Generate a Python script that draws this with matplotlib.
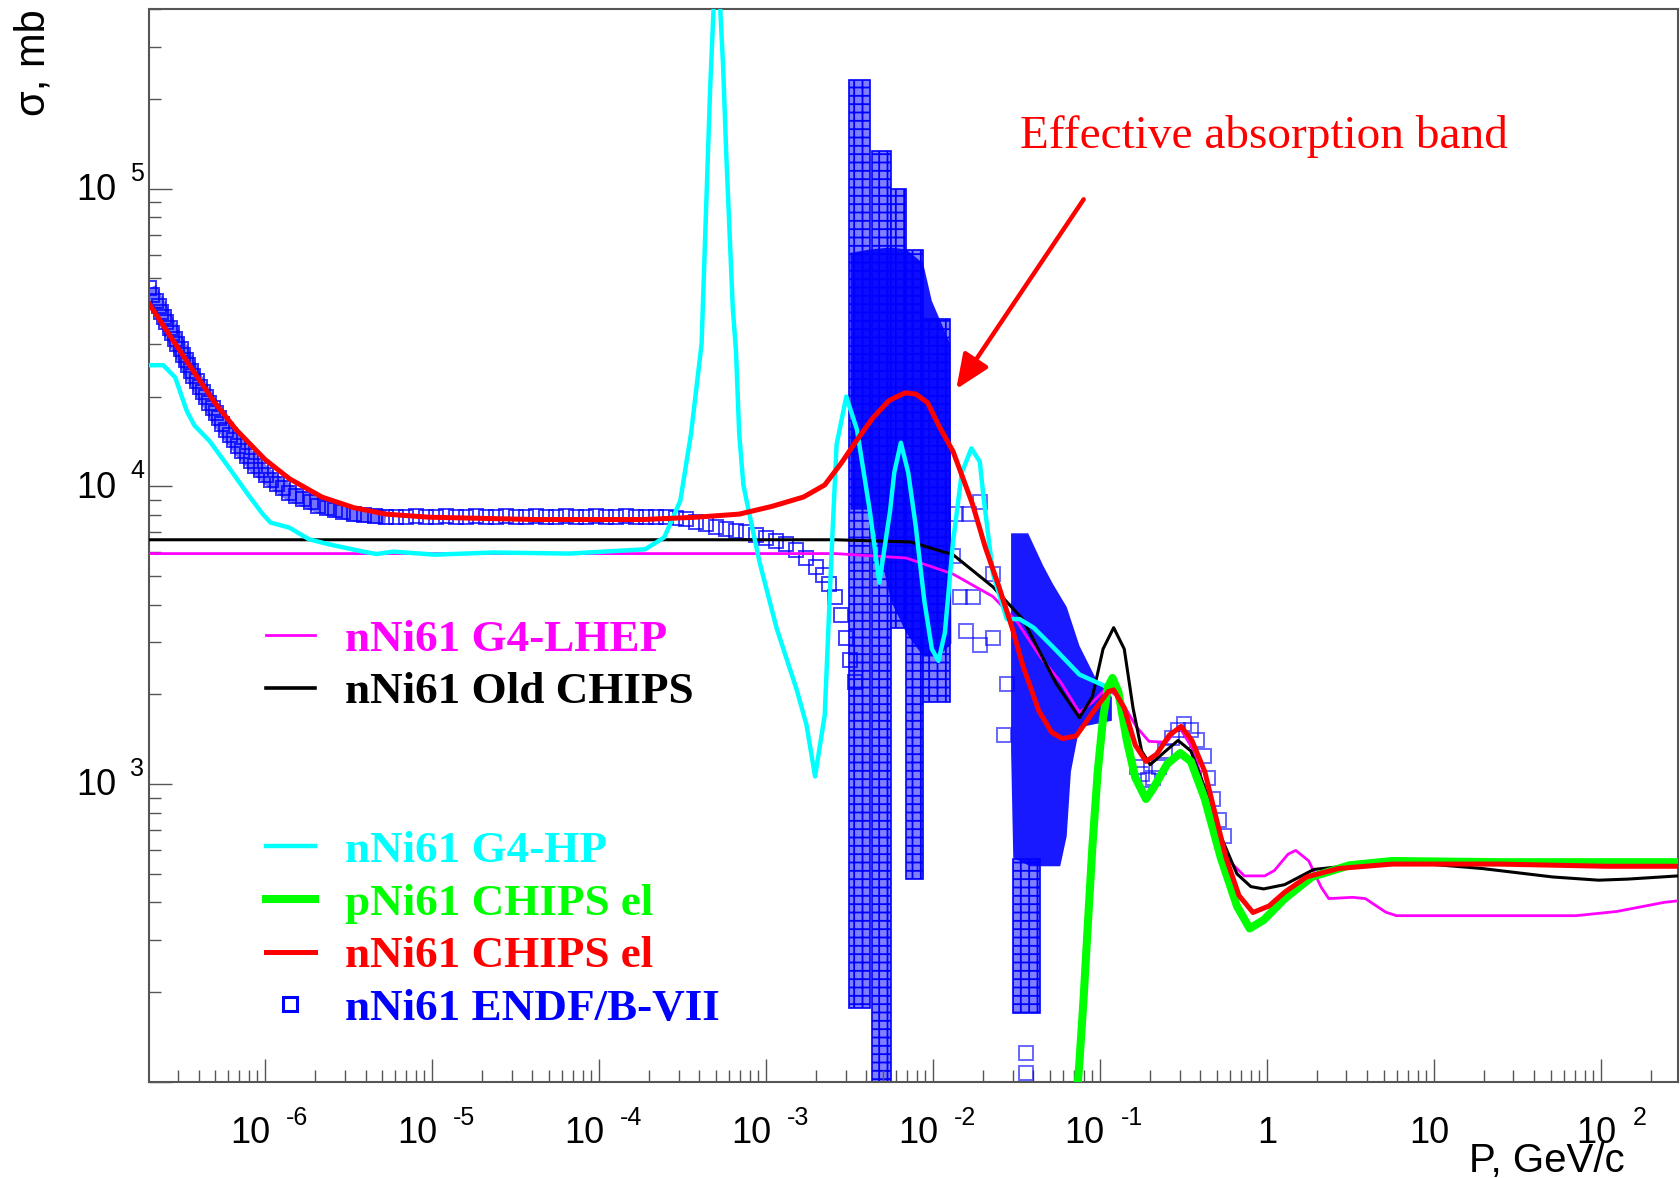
import matplotlib
matplotlib.use("Agg")
import matplotlib.pyplot as plt
from matplotlib.lines import Line2D
from matplotlib.transforms import offset_copy
from matplotlib.ticker import LogLocator, NullFormatter

plt.rcParams['hatch.color'] = '#1010ff'
plt.rcParams['hatch.linewidth'] = 1.3

# ---------------- data (p in GeV/c, sigma in mb) ----------------
lhep_p = [2.03e-7, 2.61e-3, 6.92e-3, 1.32e-2, 2.29e-2, 3.21e-2, 4.38e-2, 5.79e-2, 7.55e-2, 9.02e-2,
          0.109, 0.130, 0.165, 0.197, 0.250, 0.298, 0.366, 0.457, 0.570, 0.733, 0.971, 1.11, 1.34,
          1.49, 1.78, 2.12, 2.35, 3.26, 3.89, 5.15, 5.97, 71.3, 125, 239, 290]
lhep_s = [5.94e3, 5.94e3, 5.74e3, 5.07e3, 4.26e3, 3.49e3, 2.68e3, 2.21e3, 1.74e3, 1.88e3,
          2.09e3, 1.96e3, 1.56e3, 1.39e3, 1.38e3, 1.56e3, 1.29e3, 820, 565, 491, 491, 512, 581,
          598, 552, 449, 412, 416, 412, 371, 361, 361, 373, 400, 405]

old_p = [2.03e-7, 2.61e-3, 7.33e-3, 1.32e-2, 2.29e-2, 3.45e-2, 5.46e-2, 7.55e-2, 9.02e-2, 0.1045,
         0.121, 0.140, 0.158, 0.178, 0.200, 0.236, 0.294, 0.351, 0.425, 0.530, 0.662, 0.802, 0.957,
         1.28, 1.91, 5.62, 19.4, 51.5, 97, 145, 290]
old_s = [6.61e3, 6.61e3, 6.50e3, 5.89e3, 4.59e3, 3.58e3, 2.18e3, 1.67e3, 1.96e3, 2.84e3,
         3.35e3, 2.84e3, 1.80e3, 1.29e3, 1.16e3, 1.26e3, 1.40e3, 1.29e3, 968, 667, 499, 452, 444,
         459, 516, 551, 520, 487, 475, 479, 491]

hp_p = [2.03e-7, 2.46e-7, 2.90e-7, 3.40e-7, 3.78e-7, 4.65e-7, 6.05e-7, 7.89e-7, 9.7e-7, 1.08e-6,
        1.40e-6, 1.83e-6, 2.39e-6, 3.66e-6, 4.65e-6, 5.88e-6, 1.04e-5, 2.32e-5, 6.62e-5, 1.89e-4,
        2.46e-4, 3.07e-4, 3.56e-4, 4.12e-4, 4.37e-4, 4.64e-4, 5.07e-4, 5.54e-4, 5.79e-4, 6.33e-4,
        6.62e-4, 6.92e-4, 7.33e-4, 7.67e-4, 9.16e-4, 1.16e-3, 1.53e-3, 1.75e-3, 1.97e-3, 2.25e-3,
        2.46e-3, 2.65e-3, 3.03e-3, 3.51e-3, 4.19e-3, 4.78e-3, 5.54e-3, 5.87e-3, 6.43e-3, 7.12e-3,
        7.89e-3, 8.89e-3, 9.86e-3, 1.08e-2, 1.18e-2, 1.32e-2, 1.49e-2, 1.70e-2, 1.91e-2, 2.0e-2,
        2.29e-2, 2.77e-2, 3.30e-2, 4.01e-2, 5.38e-2, 7.55e-2, 0.112]
hp_s = [2.55e4, 2.55e4, 2.32e4, 1.79e4, 1.60e4, 1.42e4, 1.16e4, 9.40e3, 8.06e3, 7.55e3,
        7.26e3, 6.64e3, 6.39e3, 6.07e3, 5.92e3, 6.03e3, 5.89e3, 5.99e3, 5.94e3, 6.14e3,
        6.73e3, 8.93e3, 1.50e4, 3.01e4, 8.13e4, 2.20e5, 7.0e5, 2.59e5, 1.30e5, 3.99e4,
        2.84e4, 1.50e4, 1.01e4, 8.91e3, 5.56e3, 3.33e3, 2.07e3, 1.58e3, 1.06e3, 1.70e3,
        5.56e3, 1.38e4, 2.00e4, 1.55e4, 8.26e3, 4.74e3, 8.26e3, 1.11e4, 1.40e4, 1.11e4,
        7.36e3, 4.12e3, 2.84e3, 2.59e3, 3.22e3, 6.50e3, 1.11e4, 1.34e4, 1.21e4, 9.44e3,
        5.07e3, 3.58e3, 3.58e3, 3.35e3, 2.84e3, 2.33e3, 2.11e3]

pel_p = [7.22e-2, 7.55e-2, 8.0e-2, 8.49e-2, 9.02e-2, 9.71e-2, 0.1045, 0.112, 0.119, 0.129, 0.145,
         0.163, 0.189, 0.209, 0.254, 0.303, 0.351, 0.425, 0.530, 0.662, 0.789, 0.957, 1.28, 1.86,
         3.12, 5.62, 24.6, 108, 290]
pel_s = [84, 117, 192, 344, 614, 1.10e3, 1.66e3, 2.12e3, 2.27e3, 2.04e3, 1.40e3,
         1.05e3, 890, 968, 1.17e3, 1.27e3, 1.19e3, 891, 565, 389, 327, 349, 412, 487,
         533, 551, 546, 546, 546]

nel_p = [2.03e-7, 2.77e-7, 3.72e-7, 5.0e-7, 6.71e-7, 1.0e-6, 1.40e-6, 2.19e-6, 3.41e-6, 5.30e-6,
         9.6e-6, 4.2e-5, 1.83e-4, 3.83e-4, 6.92e-4, 1.08e-3, 1.68e-3, 2.25e-3, 2.81e-3, 3.51e-3,
         4.38e-3, 5.46e-3, 6.81e-3, 7.89e-3, 9.29e-3, 1.09e-2, 1.32e-2, 1.73e-2, 2.06e-2, 2.49e-2,
         2.98e-2, 3.45e-2, 4.31e-2, 5.15e-2, 5.97e-2, 7.22e-2, 9.02e-2, 0.112, 0.121, 0.140,
         0.163, 0.189, 0.219, 0.261, 0.307, 0.356, 0.425, 0.492, 0.570, 0.681, 0.826, 1.03, 1.28,
         1.73, 2.69, 5.62, 24.6, 108, 290]
nel_s = [4.09e4, 3.13e4, 2.44e4, 1.91e4, 1.55e4, 1.23e4, 1.06e4, 9.20e3, 8.47e3, 8.06e3,
         7.87e3, 7.73e3, 7.73e3, 7.87e3, 8.06e3, 8.55e3, 9.20e3, 1.01e4, 1.19e4, 1.43e4,
         1.70e4, 1.94e4, 2.06e4, 2.04e4, 1.91e4, 1.59e4, 1.31e4, 8.69e3, 6.24e3, 4.59e3,
         3.35e3, 2.51e3, 1.76e3, 1.49e3, 1.42e3, 1.45e3, 1.73e3, 2.04e3, 2.07e3, 1.80e3,
         1.35e3, 1.19e3, 1.26e3, 1.46e3, 1.56e3, 1.40e3, 1.10e3, 787, 565, 422, 370, 389, 433,
         487, 520, 538, 538, 529, 529]

# ENDF/B-VII evaluated points: steep thermal part
endf_th_p = [2.03e-7, 2.12e-7, 2.22e-7, 2.32e-7, 2.39e-7, 2.49e-7, 2.57e-7, 2.69e-7, 2.77e-7, 2.90e-7,
             2.98e-7, 3.12e-7, 3.21e-7, 3.36e-7, 3.45e-7, 3.61e-7, 3.72e-7, 3.89e-7, 4.06e-7, 4.25e-7,
             4.44e-7, 4.65e-7, 4.85e-7, 5.07e-7, 5.30e-7, 5.54e-7, 5.88e-7, 6.14e-7, 6.52e-7, 6.92e-7,
             7.33e-7, 7.8e-7, 8.26e-7, 8.75e-7, 9.42e-7, 1.01e-6, 1.09e-6, 1.18e-6, 1.29e-6, 1.40e-6,
             1.53e-6, 1.70e-6, 1.89e-6, 2.09e-6, 2.36e-6, 2.61e-6, 2.94e-6, 3.41e-6, 3.94e-6, 4.57e-6,
             5.30e-6]
endf_th_s = [4.62e4, 4.40e4, 4.19e4, 4.02e4, 3.85e4, 3.70e4, 3.55e4, 3.40e4, 3.27e4, 3.13e4,
             3.01e4, 2.88e4, 2.77e4, 2.66e4, 2.55e4, 2.44e4, 2.35e4, 2.25e4, 2.16e4, 2.07e4,
             1.99e4, 1.91e4, 1.83e4, 1.76e4, 1.69e4, 1.62e4, 1.55e4, 1.49e4, 1.43e4, 1.37e4,
             1.31e4, 1.26e4, 1.22e4, 1.17e4, 1.13e4, 1.09e4, 1.05e4, 1.02e4, 9.84e3, 9.51e3,
             9.29e3, 9.06e3, 8.83e3, 8.61e3, 8.47e3, 8.34e3, 8.20e3, 8.06e3, 8.00e3, 7.93e3,
             7.87e3]
# ENDF/B-VII: flat part and onset of the resonance region
endf_p = [6.1e-6, 7.0e-6, 8.0e-6, 9.2e-6, 1.06e-5, 1.21e-5, 1.39e-5, 1.6e-5, 1.84e-5, 2.1e-5,
          2.42e-5, 2.78e-5, 3.2e-5, 3.66e-5, 4.2e-5, 4.83e-5, 5.55e-5, 6.37e-5, 7.3e-5, 8.4e-5,
          9.6e-5, 1.1e-4, 1.27e-4, 1.46e-4, 1.67e-4, 1.92e-4, 2.2e-4, 2.53e-4, 2.9e-4, 3.33e-4,
          3.82e-4, 4.39e-4, 5.04e-4, 5.78e-4, 6.64e-4, 7.62e-4, 8.75e-4, 1.0e-3, 1.15e-3, 1.32e-3,
          1.52e-3, 1.74e-3, 2.0e-3, 2.2e-3, 2.4e-3, 2.6e-3, 2.8e-3, 3.0e-3, 3.2e-3, 3.4e-3]
endf_s = [7.9e3, 7.9e3, 7.95e3, 7.9e3, 7.9e3, 7.95e3, 7.9e3, 7.9e3, 7.95e3, 7.9e3,
          7.9e3, 7.95e3, 7.9e3, 7.9e3, 7.95e3, 7.9e3, 7.9e3, 7.95e3, 7.9e3, 7.9e3,
          7.95e3, 7.9e3, 7.9e3, 7.95e3, 7.9e3, 7.9e3, 7.9e3, 7.9e3, 7.85e3, 7.75e3,
          7.6e3, 7.45e3, 7.3e3, 7.2e3, 7.1e3, 7.0e3, 6.85e3, 6.7e3, 6.55e3, 6.4e3,
          6.1e3, 5.75e3, 5.35e3, 5.05e3, 4.7e3, 4.25e3, 3.7e3, 3.1e3, 2.6e3, 2.2e3]

# ENDF scattered points in the resonance region
endf_sc_p = [1.38e-2, 1.65e-2, 1.91e-2, 1.45e-2, 1.73e-2, 2.29e-2, 1.58e-2, 1.91e-2, 2.77e-2,
             2.65e-2, 1.32e-2, 2.29e-2, 3.61e-2, 3.61e-2,
             0.168, 0.180, 0.194, 0.209, 0.225, 0.246, 0.269, 0.294, 0.321, 0.351, 0.383, 0.419,
             0.444, 0.478, 0.515, 0.555]
endf_sc_s = [8.06e3, 8.06e3, 8.83e3, 4.26e3, 4.26e3, 3.08e3, 3.27e3, 2.94e3, 2.16e3,
             1.46e3, 5.84e3, 5.07e3, 125, 107,
             1.14e3, 1.08e3, 1.03e3, 1.05e3, 1.14e3, 1.29e3, 1.43e3, 1.52e3, 1.59e3, 1.52e3, 1.40e3,
             1.24e3, 1.05e3, 891, 755, 667]

# ENDF resonance columns (p range, sigma range of stacked points)
col_p_lo = [3.16e-3, 4.31e-3, 5.62e-3, 6.92e-3, 8.75e-3, 3.03e-2]
col_p_hi = [4.19e-3, 5.62e-3, 6.92e-3, 8.75e-3, 1.27e-2, 4.38e-2]
col_s_hi = [2.31e5, 1.34e5, 1.0e5, 6.24e4, 3.64e4, 5.6e2]
col_s_lo = [177, 90, 3.33e3, 479, 1.89e3, 170]

# dense ENDF cores (envelopes)
core1_p = [3.21e-3, 4.19e-3, 5.62e-3, 6.92e-3, 8.75e-3, 9.86e-3, 1.27e-2, 1.29e-2, 1.08e-2,
           8.75e-3, 6.92e-3, 5.62e-3, 4.19e-3, 3.21e-3]
core1_s = [6.08e4, 6.24e4, 6.34e4, 6.24e4, 5.60e4, 4.19e4, 3.01e4, 2.96e3, 2.68e3,
           2.68e3, 3.22e3, 4.12e3, 8.34e3, 8.34e3]
core2_p = [2.94e-2, 3.72e-2, 4.57e-2, 5.22e-2, 6.33e-2, 7.55e-2, 9.57e-2, 0.118, 0.118, 7.55e-2,
           6.71e-2, 6.33e-2, 5.79e-2, 3.83e-2, 3.03e-2, 2.94e-2]
core2_s = [6.95e3, 6.95e3, 5.42e3, 4.71e3, 3.93e3, 2.91e3, 2.23e3, 1.96e3, 1.63e3, 1.55e3,
           1.10e3, 667, 529, 529, 565, 1.29e3]

# annotation arrow (tail, head)
arrow_tail = (8.0e-2, 9.2e4)
arrow_head = (1.38e-2, 2.12e4)

xtick_vals = [1e-6, 1e-5, 1e-4, 1e-3, 1e-2, 1e-1, 1, 10, 100]
xtick_exp = ['-6', '-5', '-4', '-3', '-2', '-1', None, None, '2']
ytick_vals = [1e3, 1e4, 1e5]
ytick_exp = ['3', '4', '5']

# ---------------- figure ----------------
fig = plt.figure(figsize=(16.8, 11.78), dpi=100)
ax = fig.add_axes([0.0889, 0.0818, 0.9099, 0.9103])
ax.set_xscale('log')
ax.set_yscale('log')
ax.set_xlim(2.03e-7, 2.9e2)
ax.set_ylim(100, 4.0e5)

blue = '#0000ff'
# columns of stacked ENDF points
for lo, hi, sl, sh in zip(col_p_lo, col_p_hi, col_s_lo, col_s_hi):
    ax.bar(lo, sh - sl, width=hi - lo, bottom=sl, align='edge',
           facecolor=(0.5, 0.5, 1.0), edgecolor=blue, hatch='++', linewidth=1.2, zorder=1)
ax.fill(core1_p, core1_s, color=blue, alpha=0.9, lw=0, zorder=1.5)
ax.fill(core2_p, core2_s, color=blue, alpha=0.9, lw=0, zorder=1.5)
ax.plot(endf_th_p, endf_th_s, color=blue, lw=11, alpha=0.55, solid_capstyle='butt', zorder=1.8)
ax.plot(endf_th_p, endf_th_s, ls='none', marker='s', ms=9.5, mfc='none', mec=blue, mew=1.4,
        alpha=0.8, zorder=2)
ax.plot(endf_p, endf_s, ls='none', marker='s', ms=9.5, mfc='none', mec=blue, mew=1.4,
        alpha=0.75, zorder=2)
ax.plot(endf_sc_p, endf_sc_s, ls='none', marker='s', ms=9.5, mfc='none', mec=blue, mew=1.4,
        alpha=0.6, zorder=2)

ax.plot(lhep_p, lhep_s, color='#ff00ff', lw=2.0, zorder=3)
ax.plot(old_p, old_s, color='black', lw=2.2, zorder=3.1)
ax.plot(hp_p, hp_s, color='#00ffff', lw=3.2, zorder=3.2)
ax.plot(pel_p, pel_s, color='#00ff00', lw=5.8, zorder=3.3, solid_capstyle='round')
ax.plot(nel_p, nel_s, color='#ff0000', lw=3.6, zorder=3.4)

# axes style
for sp in ax.spines.values():
    sp.set_color('#555555')
    sp.set_linewidth(1.5)
ax.xaxis.set_major_locator(LogLocator(base=10, numticks=20))
ax.xaxis.set_minor_locator(LogLocator(base=10, subs=range(2, 10), numticks=20))
ax.yaxis.set_major_locator(LogLocator(base=10, numticks=20))
ax.yaxis.set_minor_locator(LogLocator(base=10, subs=range(2, 10), numticks=20))
for axis in (ax.xaxis, ax.yaxis):
    axis.set_major_formatter(NullFormatter())
    axis.set_minor_formatter(NullFormatter())
ax.tick_params(which='major', direction='in', length=16.5, width=1.0, color='#555555',
               top=False, right=False)
ax.tick_params(which='minor', direction='in', length=8.5, width=1.0, color='#555555',
               top=False, right=False)

tick_font = dict(family='Liberation Sans', color='black')
xtr = ax.get_xaxis_transform()
for v, e in zip(xtick_vals, xtick_exp):
    if e is None:
        base = '1' if v == 1 else '10'
        dx = 0 if v == 1 else -4
        ax.text(v, 0, base, transform=offset_copy(xtr, fig=fig, x=dx, y=-52, units='dots'),
                ha='center', va='center', fontsize=26, **tick_font)
    else:
        neg = e.startswith('-')
        b_dx, e_dx = (5, 21) if neg else (16, 32)
        ax.text(v, 0, '10', transform=offset_copy(xtr, fig=fig, x=b_dx, y=-52, units='dots'),
                ha='right', va='center', fontsize=26, **tick_font)
        ax.text(v, 0, e, transform=offset_copy(xtr, fig=fig, x=e_dx, y=-36, units='dots'),
                ha='left', va='center', fontsize=18, **tick_font)
ytr = ax.get_yaxis_transform()
for v, e in zip(ytick_vals, ytick_exp):
    ax.text(0, v, '10', transform=offset_copy(ytr, fig=fig, x=-33, y=-2, units='dots'),
            ha='right', va='center', fontsize=26, **tick_font)
    ax.text(0, v, e, transform=offset_copy(ytr, fig=fig, x=-19, y=15, units='dots'),
            ha='left', va='center', fontsize=18, **tick_font)

fig.text(1625 / 1680, 1 - 1172 / 1178, 'P, GeV/c', ha='right', va='baseline',
         fontsize=29, family='Liberation Sans')
fig.text(33 / 1680, 1 - 9 / 1178, 'σ, mb', ha='center', va='top', rotation=90,
         fontsize=30, family='Liberation Sans')

# annotation
fig.text(1020 / 1680, 1 - 136 / 1178, 'Effective absorption band', color='#ff0000',
         ha='left', va='center', fontsize=34, family='Liberation Serif')
ax.annotate('', xy=arrow_head, xytext=arrow_tail, zorder=5,
            arrowprops=dict(arrowstyle='-|>,head_length=0.7,head_width=0.3', color='#ff0000',
                            lw=3.2, mutation_scale=30, shrinkA=0, shrinkB=0))

# legend
handles = [
    Line2D([], [], color='#ff00ff', lw=2.0),
    Line2D([], [], color='black', lw=2.6),
    Line2D([], [], color='none'),
    Line2D([], [], color='none'),
    Line2D([], [], color='#00ffff', lw=3.2),
    Line2D([], [], color='#00ff00', lw=5.8),
    Line2D([], [], color='#ff0000', lw=3.6),
    Line2D([], [], ls='none', marker='s', mfc='none', mec=blue, ms=10, mew=2.2),
]
labels = ['nNi61 G4-LHEP', 'nNi61 Old CHIPS', ' ', ' ', 'nNi61 G4-HP', 'pNi61 CHIPS el',
          'nNi61 CHIPS el', 'nNi61 ENDF/B-VII']
colors = ['#ff00ff', 'black', 'white', 'white', '#00ffff', '#00ff00', '#ff0000', blue]
leg = fig.legend(handles, labels, loc='upper left', bbox_to_anchor=(266 / 1680, 1 - 619 / 1178),
                 frameon=False, borderpad=0, borderaxespad=0, handlelength=1.08,
                 handletextpad=0.68, labelspacing=0.27,
                 prop=dict(family='Liberation Serif', weight='bold', size=32.5))
for t, c in zip(leg.get_texts(), colors):
    t.set_color(c)

fig.savefig('out.png', dpi=100)
